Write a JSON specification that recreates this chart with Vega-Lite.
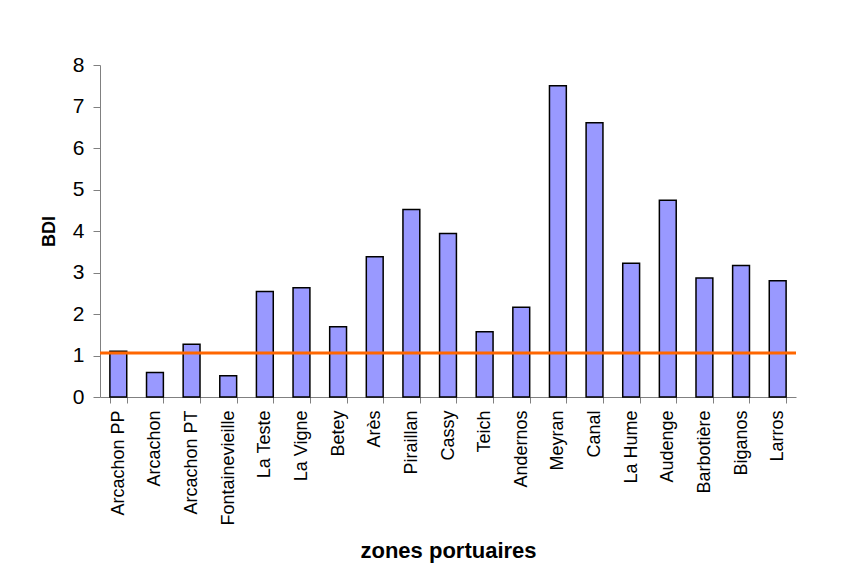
{
  "$schema": "https://vega.github.io/schema/vega-lite/v6.json",
  "width": 696,
  "height": 332,
  "autosize": {"type": "none"},
  "padding": {"left": 100, "top": 65, "right": 48, "bottom": 167},
  "background": "white",
  "config": {
    "view": {"stroke": null},
    "font": "Liberation Sans",
    "axis": {"grid": false, "domainColor": "#808080", "tickColor": "#808080", "labelColor": "black", "titleColor": "black", "labelFont": "Liberation Sans", "titleFont": "Liberation Sans"}
  },
  "datasets": {
    "zones": [
      {"zone": "Arcachon PP", "BDI": 1.10},
      {"zone": "Arcachon", "BDI": 0.59},
      {"zone": "Arcachon PT", "BDI": 1.27},
      {"zone": "Fontainevieille", "BDI": 0.51},
      {"zone": "La Teste", "BDI": 2.54},
      {"zone": "La Vigne", "BDI": 2.63},
      {"zone": "Betey", "BDI": 1.69},
      {"zone": "Arès", "BDI": 3.38},
      {"zone": "Piraillan", "BDI": 4.52},
      {"zone": "Cassy", "BDI": 3.94},
      {"zone": "Teich", "BDI": 1.57},
      {"zone": "Andernos", "BDI": 2.16},
      {"zone": "Meyran", "BDI": 7.50},
      {"zone": "Canal", "BDI": 6.61},
      {"zone": "La Hume", "BDI": 3.22},
      {"zone": "Audenge", "BDI": 4.74},
      {"zone": "Barbotière", "BDI": 2.87},
      {"zone": "Biganos", "BDI": 3.17},
      {"zone": "Larros", "BDI": 2.80}
    ],
    "seuil": [{"seuil": 1.06}]
  },
  "layer": [
    {
      "data": {"name": "zones"},
      "mark": {"type": "bar", "color": "#9999FF", "stroke": "black", "strokeWidth": 1.5},
      "encoding": {
        "x": {
          "field": "zone", "type": "nominal", "sort": null,
          "scale": {"paddingInner": 0.54, "paddingOuter": 0.27},
          "axis": {
            "title": "zones portuaires", "titleFontSize": 22, "titleFontWeight": "bold", "titlePadding": 15,
            "labelAngle": -90, "labelFontSize": 18, "labelPadding": 7, "tickSize": 6, "tickBand": "extent"
          }
        },
        "y": {
          "field": "BDI", "type": "quantitative",
          "scale": {"domain": [0, 8], "nice": false},
          "axis": {
            "title": "BDI", "titleFontSize": 18, "titleFontWeight": "bold", "titlePadding": 14,
            "values": [0, 1, 2, 3, 4, 5, 6, 7, 8], "labelFontSize": 21, "labelPadding": 9, "tickSize": 7
          }
        }
      }
    },
    {
      "data": {"name": "seuil"},
      "mark": {"type": "rule", "color": "#FF6600", "strokeWidth": 3},
      "encoding": {"y": {"field": "seuil", "type": "quantitative"}}
    }
  ]
}
